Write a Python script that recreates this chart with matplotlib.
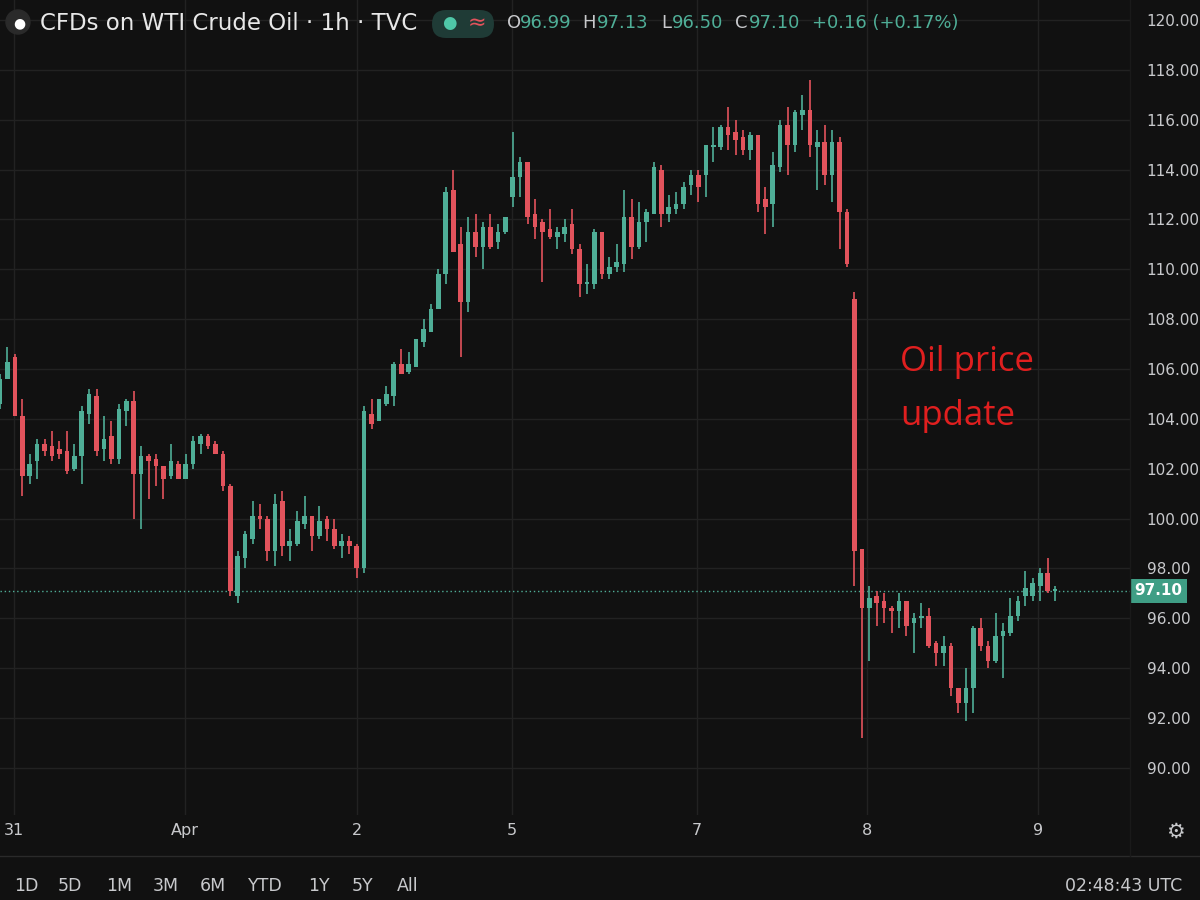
import matplotlib
matplotlib.use("Agg")
import matplotlib.pyplot as plt
from matplotlib.patches import Circle, FancyBboxPatch

opens = [104.6,105.6,106.5,104.1,101.7,102.3,103.0,102.9,102.8,102.7,102.0,102.5,104.2,104.9,102.8,103.3,102.4,104.3,104.7,101.8,
102.5,102.4,102.1,101.7,102.2,101.6,102.2,103.0,103.3,103.0,102.6,101.3,96.9,98.4,99.2,100.1,100.0,98.7,100.7,98.9,
99.0,99.8,100.1,99.3,100.0,99.6,98.9,99.1,98.9,98.0,104.2,103.9,104.6,104.9,106.2,105.9,106.1,107.1,107.5,108.4,
109.8,113.2,111.0,108.7,111.5,110.9,111.7,111.1,111.5,112.9,113.7,114.3,112.2,111.9,111.6,111.3,111.4,111.8,110.8,109.4,
109.4,111.5,109.8,110.1,110.2,112.1,110.9,111.9,112.2,114.0,112.2,112.4,112.6,113.4,113.8,113.8,114.9,114.9,115.7,115.5,
115.3,114.8,115.4,112.8,112.6,114.1,115.8,115.0,116.2,116.4,114.9,115.1,113.8,115.1,112.3,108.8,98.8,96.4,96.9,96.7,
96.4,96.3,96.7,95.8,96.0,96.1,95.0,94.6,94.9,93.2,92.6,93.2,95.6,94.9,94.3,95.3,95.4,96.1,96.9,96.9,97.3,97.8,97.1]
highs = [105.8,106.9,106.6,104.8,102.6,103.2,103.2,103.5,103.1,103.5,103.0,104.5,105.2,105.2,104.1,103.9,104.6,104.8,105.1,102.9,
102.6,102.6,102.1,103.0,102.3,102.6,103.3,103.4,103.4,103.1,102.7,101.4,98.7,99.5,100.7,100.6,100.1,101.0,101.1,99.6,
100.3,100.9,100.1,100.5,100.1,100.0,99.4,99.3,99.0,104.5,104.8,104.8,105.3,106.3,106.8,106.7,107.2,108.0,108.6,110.0,
113.3,114.0,111.7,112.1,112.2,111.9,112.2,111.8,112.1,115.5,114.5,114.3,112.8,112.0,112.4,111.7,112.0,112.4,111.0,110.2,
111.6,111.5,110.5,111.0,113.2,112.8,112.7,112.4,114.3,114.2,113.0,113.1,113.5,114.0,114.0,115.0,115.7,115.8,116.5,116.0,
115.6,115.5,115.4,113.3,114.7,116.0,116.5,116.4,117.0,117.6,115.6,115.8,115.6,115.3,112.4,109.1,98.8,97.3,97.1,97.0,
96.5,97.0,96.7,96.2,96.6,96.4,95.1,95.3,95.0,93.2,94.0,95.7,96.0,95.1,96.2,95.8,96.8,96.9,97.9,97.6,98.0,98.4,97.3]
lows = [104.4,105.6,104.1,100.9,101.4,101.6,102.5,102.3,102.4,101.8,101.9,101.4,103.8,102.5,102.3,102.2,102.2,103.7,100.0,99.6,
100.8,101.3,100.8,101.6,101.6,101.6,102.0,102.6,102.8,102.6,101.1,96.9,96.6,98.0,99.0,99.6,98.3,98.1,98.5,98.3,
98.9,99.6,98.7,99.2,99.1,98.8,98.4,98.6,97.6,97.8,103.6,103.9,104.5,104.5,105.8,105.8,106.1,106.9,107.5,108.4,
109.4,110.7,106.5,108.3,110.5,110.0,110.8,110.8,111.4,112.5,112.9,111.8,111.2,109.5,111.2,110.8,111.1,110.6,108.9,109.0,
109.2,109.6,109.6,109.9,109.9,110.4,110.8,111.1,112.2,111.7,111.9,112.2,112.4,113.0,112.7,112.9,114.3,114.8,114.8,114.6,
114.6,114.4,112.3,111.4,111.7,113.9,113.8,114.7,115.6,114.5,113.2,113.4,112.7,110.8,110.1,97.3,91.2,94.3,95.7,95.8,
95.4,95.6,95.3,94.6,95.6,94.8,94.1,94.1,92.9,92.2,91.9,92.2,94.7,94.0,94.2,93.6,95.3,95.9,96.5,96.7,96.7,97.0,96.7]
closes = [105.6,106.3,104.1,101.7,102.2,103.0,102.7,102.5,102.6,101.9,102.5,104.3,105.0,102.7,103.2,102.4,104.4,104.7,101.8,102.5,
102.3,102.1,101.6,102.3,101.6,102.2,103.1,103.3,102.9,102.6,101.3,97.1,98.5,99.4,100.1,100.0,98.7,100.6,98.9,99.1,
99.9,100.1,99.3,99.9,99.6,98.9,99.1,98.9,98.0,104.3,103.8,104.8,105.0,106.2,105.8,106.2,107.2,107.6,108.4,109.8,
113.1,110.7,108.7,111.5,110.9,111.7,110.9,111.5,112.1,113.7,114.3,112.1,111.7,111.5,111.3,111.5,111.7,110.8,109.4,109.5,
111.5,109.8,110.1,110.3,112.1,110.9,111.9,112.3,114.1,112.2,112.5,112.6,113.3,113.8,113.3,115.0,115.0,115.7,115.4,115.2,
114.8,115.4,112.6,112.5,114.2,115.8,115.0,116.3,116.4,115.0,115.1,113.8,115.1,112.3,110.2,98.7,96.4,96.8,96.6,96.4,
96.3,96.7,95.7,96.0,96.1,94.9,94.6,94.9,93.2,92.6,93.2,95.6,94.9,94.3,95.3,95.5,96.1,96.7,97.2,97.4,97.8,97.1,97.1]

day_labels = ["31", "Apr", "2", "5", "7", "8", "9"]
day_pos = [1.9, 24.9, 48.0, 68.9, 93.8, 116.7, 139.7]
price_ticks = list(range(90, 121, 2))
last_price = 97.10

BG = "#111111"
GREEN = "#4fae97"
RED = "#e2535c"
GRID = "#222222"
TXT = "#c8c9cc"

fig = plt.figure(figsize=(12, 9), dpi=100, facecolor=BG)
ax = fig.add_axes([0, 1 - 815 / 900, 1130 / 1200, 815 / 900], facecolor=BG)
px_per = 7.43
ax.set_xlim(0, 1130 / px_per)
ax.set_ylim(120 - 795 / 24.93, 120 + 20 / 24.93)

for x in day_pos:
    ax.axvline(x, color=GRID, lw=1, zorder=0)
for p in price_ticks:
    ax.axhline(p, color=GRID, lw=1, zorder=0)

for i, (o, h, l, c) in enumerate(zip(opens, highs, lows, closes)):
    col = GREEN if c >= o else RED
    ax.vlines(i, l, h, color=col, lw=1.2, zorder=2)
    bot = min(o, c)
    hgt = max(abs(c - o), 0.08)
    ax.bar(i, hgt, bottom=bot, width=0.62, color=col, edgecolor=col, lw=0, zorder=3)

ax.axhline(last_price, color=GREEN, lw=1, ls=(0, (1, 2)), zorder=1)

ax.yaxis.tick_right()
ax.set_yticks(price_ticks)
ax.set_yticklabels([f"{p:.2f}" for p in price_ticks])
ax.tick_params(axis="y", colors=TXT, labelsize=11, length=0, pad=12)
ax.set_xticks(day_pos)
ax.set_xticklabels(day_labels)
ax.tick_params(axis="x", colors=TXT, labelsize=11.5, length=0, pad=6)
for s in ax.spines.values():
    s.set_visible(False)

ax.annotate(f"{last_price:.2f}", xy=(1.0, last_price), xycoords=("axes fraction", "data"),
            xytext=(3, 0), textcoords="offset points", ha="left", va="center",
            color="white", fontsize=11, fontweight="bold",
            bbox=dict(boxstyle="square,pad=0.3", fc="#3f9e85", ec="none"), annotation_clip=False)

fig.text(900 / 1200, 1 - 362 / 900, "Oil price", color="#e01f1f", fontsize=25,
         family="Open Sans", va="center", ha="left")
fig.text(900 / 1200, 1 - 416 / 900, "update", color="#e01f1f", fontsize=25,
         family="Open Sans", va="center", ha="left")

fig.patches.append(Circle((18, 878), 12, transform=None, color="#2a2a2a", figure=fig))
fig.text(13 / 1200, 1 - 23 / 900, "●", color="white", fontsize=10, va="center")
fig.text(40 / 1200, 1 - 23 / 900, "CFDs on WTI Crude Oil · 1h · TVC", color="#e8e8e8", fontsize=16.5, va="center")
fig.patches.append(FancyBboxPatch((432, 862), 62, 28, boxstyle="round,pad=0,rounding_size=14",
                                  transform=None, fc="#1f3b36", ec="none", figure=fig))
fig.text(442 / 1200, 1 - 23 / 900, "●", color="#4fc7a8", fontsize=12, va="center")
fig.text(468 / 1200, 1 - 23 / 900, "≈", color="#e2535c", fontsize=16, va="center")
segs = [("O", TXT, 507), ("96.99", GREEN, 520), ("H", TXT, 582), ("97.13", GREEN, 597),
        ("L", TXT, 661), ("96.50", GREEN, 672), ("C", TXT, 735), ("97.10", GREEN, 749),
        ("+0.16 (+0.17%)", GREEN, 812)]
for t, c, x in segs:
    fig.text(x / 1200, 1 - 23 / 900, t, color=c, fontsize=13, va="center")

fig.add_artist(plt.Line2D([0, 1], [1 - 856 / 900] * 2, color="#2a2a2a", lw=1))
fig.add_artist(plt.Line2D([1130 / 1200] * 2, [1 - 856 / 900, 1], color="#1a1a1a", lw=1))
for t, x in zip(["1D", "5D", "1M", "3M", "6M", "YTD", "1Y", "5Y", "All"],
                [14, 58, 106, 153, 200, 248, 308, 352, 397]):
    fig.text(x / 1200, 1 - 886 / 900, t, color=TXT, fontsize=12.5, va="center")
fig.text(1065 / 1200, 1 - 886 / 900, "02:48:43 UTC", color=TXT, fontsize=12.5, va="center")
fig.text(1175 / 1200, 1 - 832 / 900, "⚙", color=TXT, fontsize=15, va="center", ha="center")

fig.savefig("out.png", dpi=100, facecolor=BG)
